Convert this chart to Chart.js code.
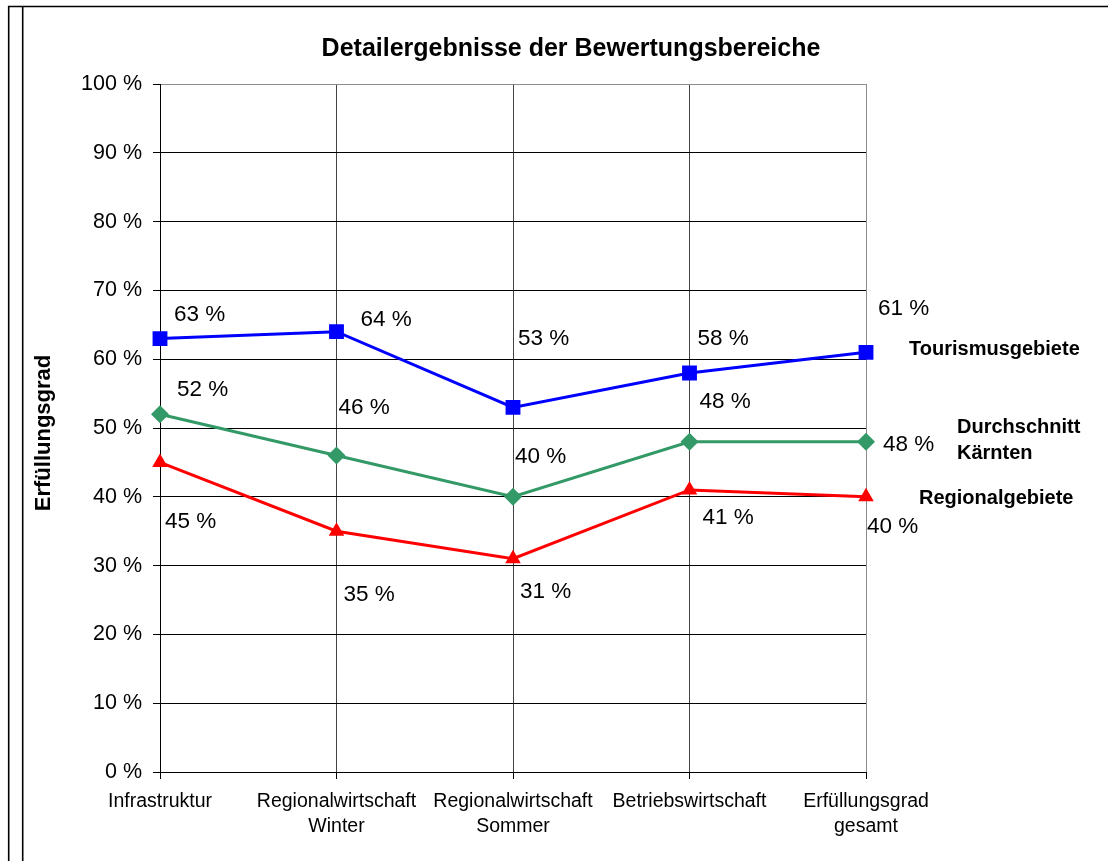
<!DOCTYPE html>
<html>
<head>
<meta charset="utf-8">
<title>Detailergebnisse der Bewertungsbereiche</title>
<script src="https://cdn.jsdelivr.net/npm/chart.js@4.4.1/dist/chart.umd.min.js"></script>
<style>
  html, body { margin: 0; padding: 0; background: #fff; }
  canvas { display: block; }
</style>
</head>
<body>
<canvas id="chart" width="1108" height="861"></canvas>
<script>
// Daten
const categories = [
  "Infrastruktur",
  ["Regionalwirtschaft", "Winter"],
  ["Regionalwirtschaft", "Sommer"],
  "Betriebswirtschaft",
  ["Erfüllungsgrad", "gesamt"]
];
const tourismus = [63, 64, 53, 58, 61];
const kaernten = [52, 46, 40, 48, 48];
const regional = [45, 35, 31, 41, 40];
const seriesNames = ["Tourismusgebiete", ["Durchschnitt", "Kärnten"], "Regionalgebiete"];
const yTicks = [0, 10, 20, 30, 40, 50, 60, 70, 80, 90, 100];

const FONT = "'Liberation Sans', Arial, sans-serif";

// Lage der Datenbeschriftungen relativ zum Punkt (dx, dy)
const labelOffsets = [
  [[14, -18], [24, -6], [5, -62], [8, -28], [12, -37]],
  [[17, -18], [2, -42], [2, -34], [10, -34], [17, 9]],
  [[5, 66], [7, 70], [7, 39], [13, 34], [1, 36]]
];
// Lage der Reihennamen relativ zum letzten Punkt
const nameOffsets = [[43, 3], [91, -9], [53, 7]];

const labelPlugin = {
  id: "labels",
  afterDatasetsDraw(chart) {
    const ctx = chart.ctx;
    ctx.save();
    ctx.fillStyle = "#000";
    ctx.textAlign = "left";
    ctx.textBaseline = "alphabetic";
    chart.data.datasets.forEach((ds, i) => {
      const meta = chart.getDatasetMeta(i);
      ctx.font = "22.5px " + FONT;
      meta.data.forEach((pt, j) => {
        const off = labelOffsets[i][j];
        ctx.fillText(ds.data[j] + " %", pt.x + off[0], pt.y + off[1]);
      });
      // Reihenname rechts
      const last = meta.data[meta.data.length - 1];
      const name = seriesNames[i];
      const lines = Array.isArray(name) ? name : [name];
      ctx.font = "bold 20px " + FONT;
      lines.forEach((t, k) => {
        ctx.fillText(t, last.x + nameOffsets[i][0], last.y + nameOffsets[i][1] + k * 26);
      });
    });
    ctx.restore();
  },
  afterDraw(chart) {
    const ctx = chart.ctx;
    ctx.save();
    // Titel
    ctx.fillStyle = "#000";
    ctx.font = "bold 25px " + FONT;
    ctx.textAlign = "center";
    ctx.fillText("Detailergebnisse der Bewertungsbereiche", 571, 56);
    // Achsentitel
    ctx.translate(50, 433);
    ctx.rotate(-Math.PI / 2);
    ctx.font = "bold 22px " + FONT;
    ctx.fillText("Erfüllungsgrad", 0, 0);
    ctx.restore();
    // Rahmen
    ctx.save();
    ctx.strokeStyle = "#000";
    ctx.lineWidth = 1.6;
    ctx.beginPath();
    ctx.moveTo(8, 6.5); ctx.lineTo(1108, 6.5);
    ctx.moveTo(8.7, 6); ctx.lineTo(8.7, 861);
    ctx.moveTo(22.7, 6); ctx.lineTo(22.7, 861);
    ctx.stroke();
    ctx.restore();
  }
};

document.addEventListener("DOMContentLoaded", () => {
  const ctx = document.getElementById("chart").getContext("2d");
  Chart.defaults.font.family = FONT;
  Chart.defaults.color = "#000";

  new Chart(ctx, {
    type: "line",
    data: {
      labels: categories,
      datasets: [
        {
          label: "Tourismusgebiete",
          data: tourismus,
          borderColor: "#0000ff",
          backgroundColor: "#0000ff",
          pointStyle: "rect",
          pointRadius: 10.5,
          borderWidth: 3,
          pointBorderWidth: 0
        },
        {
          label: "Durchschnitt Kärnten",
          data: kaernten,
          borderColor: "#339966",
          backgroundColor: "#339966",
          pointStyle: "rectRot",
          pointRadius: 9,
          borderWidth: 3,
          pointBorderWidth: 0
        },
        {
          label: "Regionalgebiete",
          data: regional,
          borderColor: "#ff0000",
          backgroundColor: "#ff0000",
          pointStyle: "triangle",
          pointRadius: 9,
          borderWidth: 3,
          pointBorderWidth: 0
        }
      ]
    },
    options: {
      responsive: false,
      maintainAspectRatio: false,
      animation: false,
      layout: { padding: { left: 0, right: 242, top: 84, bottom: 0 } },
      plugins: {
        legend: { display: false },
        tooltip: { enabled: false },
        title: { display: false }
      },
      elements: { line: { tension: 0 } },
      scales: {
        x: {
          offset: false,
          afterFit: (s) => { s.height = 89; },
          grid: {
            color: (c) => c.index === categories.length - 1 ? "#8c8c8c" : "#444",
            lineWidth: 1,
            tickColor: "#000",
            tickLength: 7
          },
          border: { color: "#000", width: 1 },
          ticks: {
            font: { size: 19.5, family: FONT, lineHeight: 1.3 },
            color: "#000",
            padding: 10,
            maxRotation: 0,
            autoSkip: false
          }
        },
        y: {
          min: 0,
          max: 100,
          afterFit: (s) => { s.width = 160; },
          afterBuildTicks: (s) => { s.ticks = yTicks.map((v) => ({ value: v })); },
          grid: {
            color: (c) => c.index === yTicks.length - 1 ? "#8c8c8c" : "#000",
            lineWidth: 1,
            tickColor: "#000",
            tickLength: 7
          },
          border: { color: "#000", width: 1 },
          ticks: {
            font: { size: 21.5, family: FONT },
            color: "#000",
            padding: 11,
            callback: (v) => v + " %"
          }
        }
      }
    },
    plugins: [labelPlugin]
  });
});
</script>
</body>
</html>
